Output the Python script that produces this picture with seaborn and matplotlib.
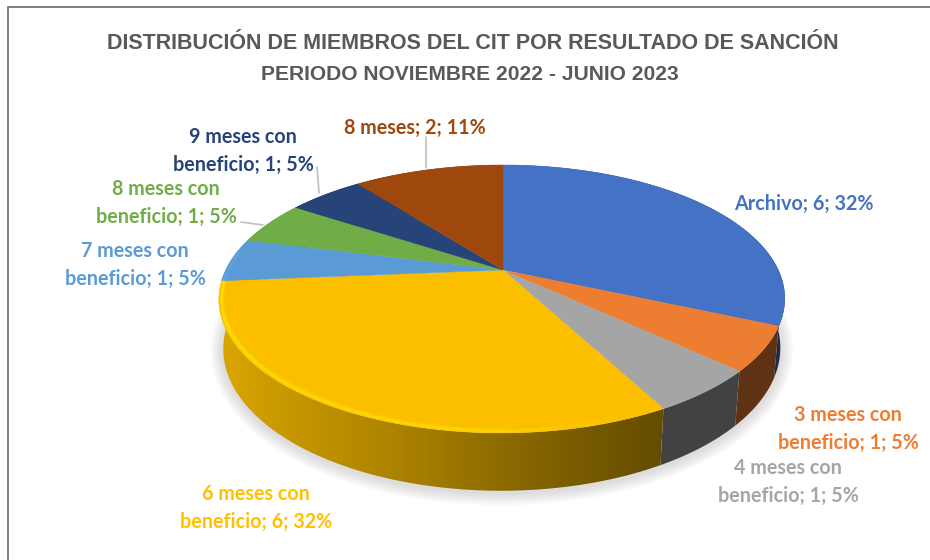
import numpy as np
import matplotlib
matplotlib.use('Agg')
import matplotlib.pyplot as plt
import seaborn as sns
from matplotlib.collections import LineCollection
from matplotlib.patches import Polygon

# Data
categories = ['Archivo', '3 meses con\nbeneficio', '4 meses con\nbeneficio',
              '6 meses con\nbeneficio', '7 meses con\nbeneficio',
              '8 meses con\nbeneficio', '9 meses con\nbeneficio', '8 meses']
values = [6, 1, 1, 6, 1, 1, 1, 2]
slice_colors = ['#4472C4', '#ED7D31', '#A5A5A5', '#FBBF00',
                '#5B9BD5', '#70AD47', '#264478', '#9E480E']
label_colors = ['#4472C4', '#ED7D31', '#A5A5A5', '#FFC000',
                '#5B9BD5', '#70AD47', '#264478', '#9E480E']
rim_colors = ['#4A7CD4', '#F28A40', '#B0B0B0', '#FFE400',
              '#6AA8E0', '#7DBB52', '#2D4F8A', '#AD5212']
title_lines = ['DISTRIBUCIÓN DE MIEMBROS DEL CIT POR RESULTADO DE SANCIÓN',
               'PERIODO NOVIEMBRE 2022 - JUNIO 2023']

# Title placement (x, baseline y, size) and label placement in pixels
title_pos = [(473, 49, 15.5), (470, 80, 15.1)]
label_pos = [(804, 204), (848, 429), (788, 482), (256, 508),
             (135, 265), (166, 203), (243, 151), (415, 128)]
# Leader lines: (x0, y0, x1, y1)
leaders = [(241, 222, 263, 225), (317, 167, 319, 193), (426, 137, 426, 168)]

# Perspective of the pie
APEX_X, CX, CY = 503, 502, 270
RX, RY = 276.3, 127.7
P = 0.216
DEPTH = 48


def project(theta, r=1.0, drop=0.0):
    u = r * np.sin(theta)
    v = -r * np.cos(theta)
    w = 1 - P * v
    return CX - v + RX * u / w, CY + RY * v / w + drop / w


def wall_factor(x):
    return np.interp(x, [218, 300, 400, 500, 660, 783], [.87, .78, .68, .56, .40, .40])


sns.set_theme(style='white')
plt.rcParams['font.family'] = ['Lato', 'DejaVu Sans']
palette = sns.color_palette(slice_colors)

fig = plt.figure(figsize=(9.3, 5.6), dpi=100)
ax = fig.add_axes([0, 0, 1, 1])
ax.axis('off')

total = sum(values)
edges = 2 * np.pi * np.cumsum([0] + values) / total

# Soft shadow under the pie
t = np.linspace(np.radians(75), np.radians(285), 200)
sx, sy = project(t, 0.985, DEPTH)
for lw in [3, 6, 9, 12, 15, 18]:
    ax.plot(sx, sy + 2, color='#8a8a8a', lw=lw, alpha=0.05, zorder=1, solid_capstyle='round')

# Side walls with horizontal shading
grad_x = np.linspace(200, 800, 300)
for i, col in enumerate(palette):
    t = np.linspace(edges[i], edges[i + 1], 120)
    x0, y0 = project(t)
    x1, y1 = project(t, 0.985, DEPTH)
    poly = Polygon(np.column_stack([np.r_[x0, x1[::-1]], np.r_[y0, y1[::-1]]]),
                   closed=True, fc='none', ec='none', transform=ax.transData)
    ax.add_patch(poly)
    shade = wall_factor(grad_x)[None, :, None] * np.array(col)[None, None, :]
    im = ax.imshow(shade, extent=(200, 800, 520, 150), aspect='auto', zorder=2,
                   interpolation='bilinear')
    im.set_clip_path(poly)

# Top faces
for i, col in enumerate(palette):
    t = np.linspace(edges[i], edges[i + 1], 120)
    x, y = project(t)
    ax.fill(np.r_[APEX_X, x], np.r_[CY, y], color=col, lw=0.3, zorder=3)

# Bevel highlight along the front rim, a wide faint pass and a narrow one
for i, col in enumerate(rim_colors):
    t = np.linspace(edges[i], edges[i + 1], 120)
    x, y = project(t, 0.99)
    pts = np.column_stack([x, y])
    segs = np.stack([pts[:-1], pts[1:]], axis=1)
    keep = -np.cos(t[:-1]) > -0.15
    for lw, strength in [(4.0, 0.3), (1.8, 0.65)]:
        alpha = strength * np.interp(x[:-1], [218, 480, 640], [1, 0.7, 0])
        rgba = np.column_stack([np.tile(matplotlib.colors.to_rgb(col), (len(alpha), 1)), alpha])
        ax.add_collection(LineCollection(segs[keep], colors=rgba[keep], linewidths=lw, zorder=4))

# Leader lines
for x0, y0, x1, y1 in leaders:
    ax.plot([x0, x1], [y0, y1], color='#bfbfbf', lw=1.2, zorder=5)

# Data labels
for name, val, (lx, ly), col in zip(categories, values, label_pos, label_colors):
    pct = round(100 * val / total)
    ax.text(lx, ly, f'{name}; {val}; {pct}%', color=col, fontsize=14.2, fontweight='bold',
            ha='center', va='center', linespacing=1.45, zorder=6)

# Title
for line, (tx, ty, size) in zip(title_lines, title_pos):
    ax.text(tx, ty, line, color='#595959', fontsize=size, fontweight='bold',
            family='Liberation Sans', ha='center', va='baseline', zorder=6)

# Chart frame, only left and top are in the crop
ax.plot([8, 8, 930], [560, 7, 7], color='#7f7f7f', lw=1.4, zorder=6)

ax.set_xlim(0, 930)
ax.set_ylim(560, 0)
fig.savefig('out.png', dpi=100, facecolor='white')
